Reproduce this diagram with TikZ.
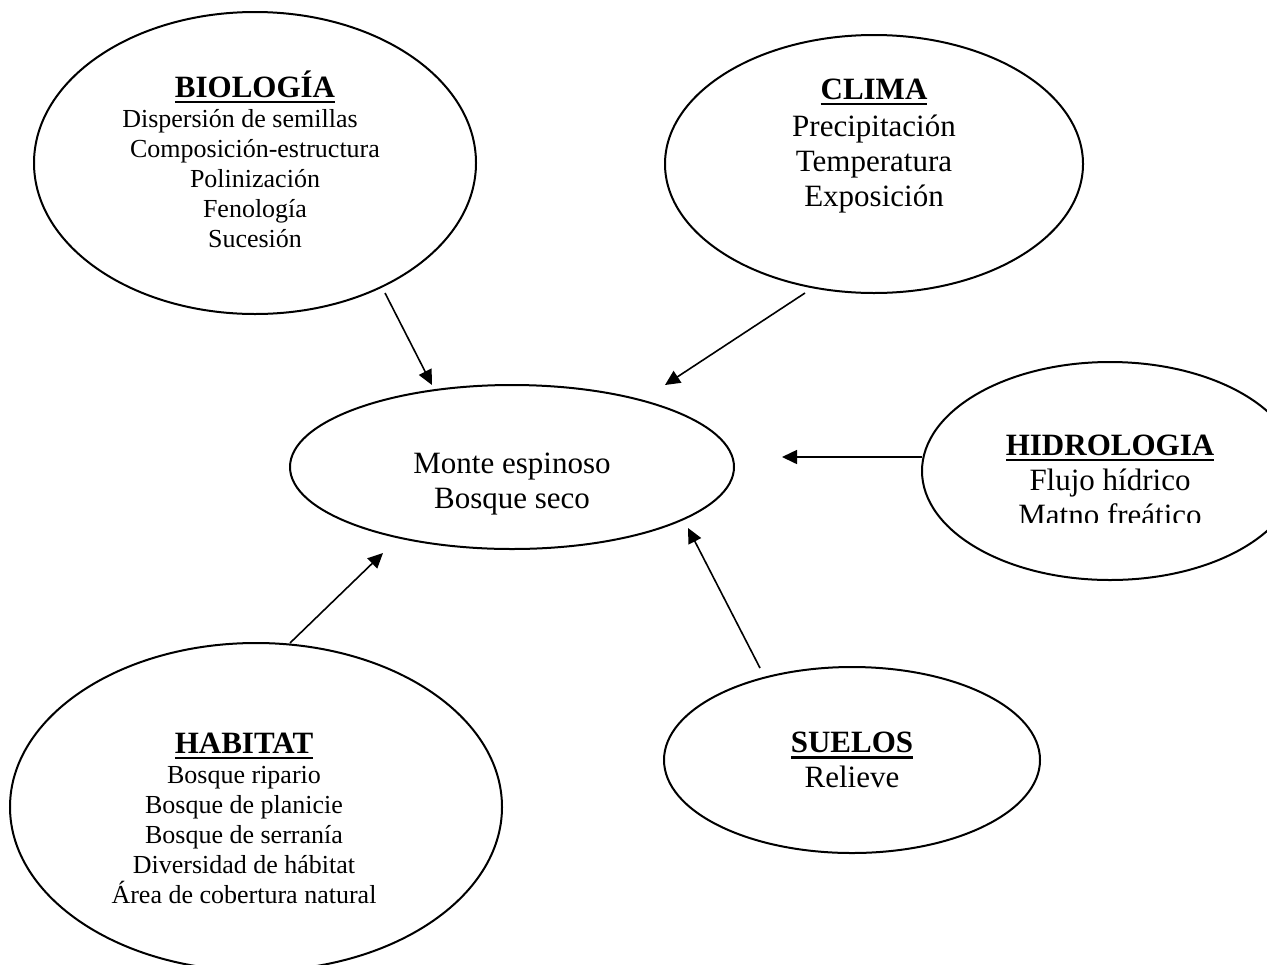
\documentclass[tikz,border=0pt]{standalone}
\usepackage{fontspec}
\setmainfont{Liberation Serif}
\usetikzlibrary{shapes.geometric,arrows.meta}

% bold heading with a heavy underline
\newcommand{\ulhead}[1]{\setbox0\hbox{\bfseries #1}\leavevmode\rlap{\rule[-3pt]{\wd0}{1.2pt}}\box0}

\begin{document}
\begin{tikzpicture}[x=0.5pt,y=-0.5pt,
  topic/.style={draw, ellipse, line width=1pt, inner sep=0pt},
  link/.style={line width=0.8pt, -{Triangle[length=7.5pt,width=7pt]}},
  bigtext/.style={align=center, inner sep=0pt, font=\fontsize{15.5}{17.5}\selectfont},
  smalltext/.style={align=center, inner sep=0pt, font=\fontsize{13}{15}\selectfont},
]
\clip (0,0) rectangle (1267,964);

% ellipses
\node[topic, minimum width=221pt, minimum height=151pt] (bio)   at (255,163) {};
\node[topic, minimum width=209pt, minimum height=129pt] (clima) at (874,164) {};
\node[topic, minimum width=222pt, minimum height=82pt]  (hub)   at (512,467) {};
\node[topic, minimum width=188pt, minimum height=109pt] (hidro) at (1110,471) {};
\node[topic, minimum width=188pt, minimum height=93pt]  (suelo) at (852,760) {};
\node[topic, minimum width=246pt, minimum height=164pt] (hab)   at (256,807) {};

% texts
\node[smalltext] (bio-t) at (255,159)
  {{\fontsize{15.5}{17}\selectfont\ulhead{BIOLOGÍA}}\\
   \mbox{Dispersión de semillas\hspace{15pt}}\\
   Composición-estructura\\
   Polinización\\
   Fenología\\
   Sucesión};
\node[bigtext] (clima-t) at (874,146)
  {\ulhead{CLIMA}\\[1pt] Precipitación\\ Temperatura\\ Exposición};
\node[bigtext] (hub-t) at (512,484) {Monte espinoso\\ Bosque seco};
\begin{scope}
  \clip (900,340) rectangle (1267,522);
  \node[bigtext] (hidro-t) at (1110,480)
    {\ulhead{HIDROLOGIA}\\ Flujo hídrico\\ Matno freático};
\end{scope}
\node[bigtext] (suelo-t) at (852,760) {\ulhead{SUELOS}\\ Relieve};
\node[smalltext] (hab-t) at (244,818)
  {{\fontsize{15.5}{17}\selectfont\ulhead{HABITAT}}\\
   Bosque ripario\\
   Bosque de planicie\\
   Bosque de serranía\\
   Diversidad de hábitat\\
   Área de cobertura natural};

% connector end points
\coordinate (bio-out)   at (385,293);
\coordinate (hub-n)     at (432,385);
\coordinate (clima-out) at (805,293);
\coordinate (hub-ne)    at (665,385);
\coordinate (hidro-out) at (922,457);
\coordinate (hub-e)     at (782,457);
\coordinate (suelo-out) at (760,668);
\coordinate (hub-se)    at (688,528);
\coordinate (hab-out)   at (290,643);
\coordinate (hub-sw)    at (383,553);

% connectors
\draw[link] (bio-out)   -- (hub-n);
\draw[link] (clima-out) -- (hub-ne);
\draw[link] (hidro-out) -- (hub-e);
\draw[link] (suelo-out) -- (hub-se);
\draw[link] (hab-out)   -- (hub-sw);
\end{tikzpicture}
\end{document}
